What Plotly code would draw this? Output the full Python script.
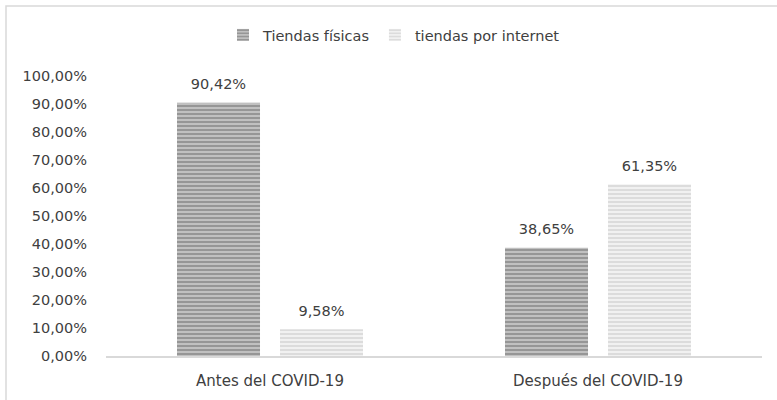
import plotly.graph_objects as go

categories = ["Antes del COVID-19", "Después del COVID-19"]
fisicas = [90.42, 38.65]
internet = [9.58, 61.35]
series_names = ["Tiendas físicas", "tiendas por internet"]
tick_vals = [0, 10, 20, 30, 40, 50, 60, 70, 80, 90, 100]
tick_text = ["0,00%", "10,00%", "20,00%", "30,00%", "40,00%", "50,00%",
             "60,00%", "70,00%", "80,00%", "90,00%", "100,00%"]

def fmt(v):
    return f"{v:.2f}".replace(".", ",") + "%"

FONT = "DejaVu Sans, sans-serif"
TXT = "#404040"
L, R, T, B = 106, 15, 76, 44
PW, PH = 777 - L - R, 400 - T - B
BARGAP = 0.372

fig = go.Figure()
fig.add_trace(go.Bar(
    name=series_names[0], x=categories, y=fisicas, offsetgroup="a",
    marker=dict(color="#c4c4c4", line=dict(width=0),
                pattern=dict(shape="-", fgcolor="#676767", bgcolor="#c4c4c4",
                             size=4, solidity=0.55)),
))
fig.add_trace(go.Bar(
    name=series_names[1], x=categories, y=internet, offsetgroup="b",
    marker=dict(color="#f3f3f3", line=dict(width=0),
                pattern=dict(shape="-", fgcolor="#c6c6c6", bgcolor="#f3f3f3",
                             size=4, solidity=0.55)),
))
for vals, grp in [(fisicas, "a"), (internet, "b")]:
    fig.add_trace(go.Scatter(
        x=categories, y=vals, offsetgroup=grp, mode="markers+text",
        text=[fmt(v) for v in vals], textposition="top center",
        textfont=dict(size=14.5, color=TXT, family=FONT),
        marker=dict(size=14, color="rgba(0,0,0,0)"),
        showlegend=False, hoverinfo="skip", cliponaxis=False,
    ))

fig.update_layout(
    width=777, height=400,
    margin=dict(l=L, r=R, t=T, b=B, autoexpand=False),
    paper_bgcolor="white", plot_bgcolor="white",
    barmode="group", bargap=BARGAP, bargroupgap=0.194,
    scattermode="group", scattergap=BARGAP,
    font=dict(family=FONT, size=14.5, color=TXT),
    showlegend=True,
    legend=dict(orientation="h", x=(394 - L) / PW, xanchor="center",
                y=(356 - 35) / PH, yanchor="middle",
                font=dict(size=14.5, color=TXT, family=FONT),
                bgcolor="rgba(0,0,0,0)", itemwidth=30, traceorder="normal"),
    xaxis=dict(showgrid=False, showline=True, linecolor="#d9d9d9", linewidth=1.5,
               ticks="", ticklabelstandoff=10,
               tickfont=dict(size=15, color=TXT, family=FONT)),
    yaxis=dict(range=[0, 100], tickvals=tick_vals, ticktext=tick_text,
               showgrid=False, zeroline=False, showline=False, ticks="",
               ticklabelstandoff=18,
               tickfont=dict(size=14.5, color=TXT, family=FONT)),
    shapes=[dict(type="rect", xref="paper", yref="paper",
                 x0=(6 - L) / PW, x1=1.2, y0=-0.3, y1=(356 - 6) / PH,
                 line=dict(color="#d9d9d9", width=1.5), fillcolor="rgba(0,0,0,0)",
                 layer="below")],
)

fig.write_html("out.html", config={"displayModeBar": False},
               post_script="document.body.style.margin='0';")
